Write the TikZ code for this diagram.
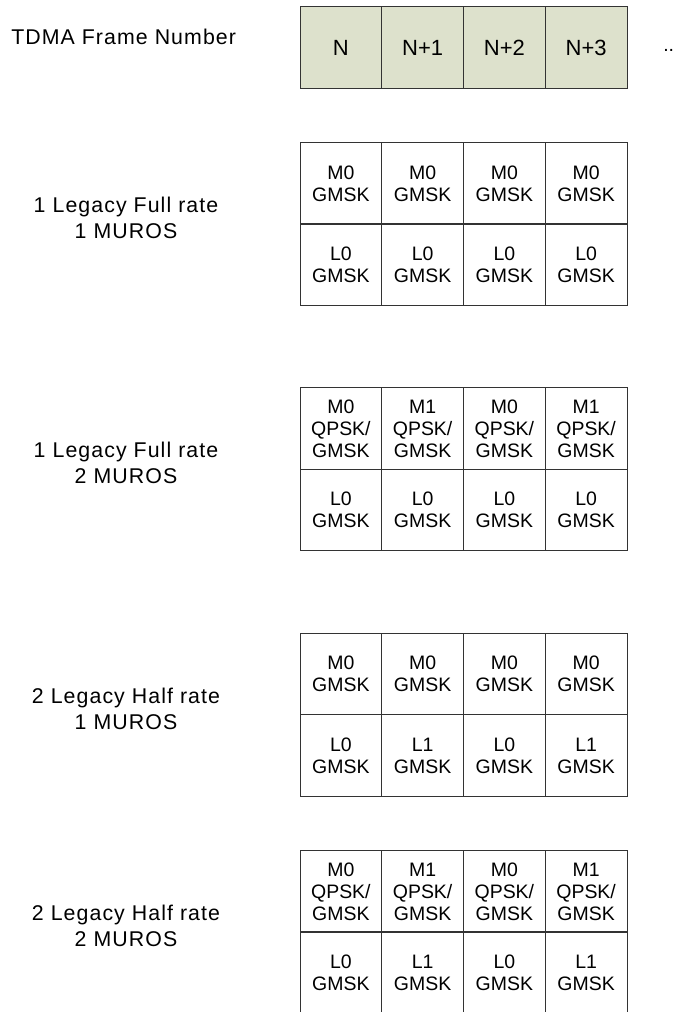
\documentclass[tikz,border=0pt]{standalone}
\usepackage{fontspec}
\setmainfont{Liberation Sans}
\newfontfamily\lblfont{Liberation Sans}[LetterSpace=5]
\usepackage{xcolor}
\usepackage{tikz}
\usetikzlibrary{positioning}
\definecolor{framefill}{HTML}{DDE1CC}

\begin{document}
\begin{tikzpicture}[
  x=0.75pt, y=-0.75pt,
  font=\fontsize{14.6pt}{16.5pt}\selectfont,
  cell/.style={draw=black!80, line width=0.75pt, minimum width=61.3pt, minimum height=61.1pt, align=center, inner sep=0pt},
  fnum/.style={cell, fill=framefill, font=\fontsize{16.5pt}{18pt}\selectfont},
  lbl/.style={align=center, font=\lblfont\fontsize{16pt}{19.5pt}\selectfont},
]
\useasboundingbox (0,0) rectangle (674,1012);
\clip (0,0) rectangle (674,1012);
% ---------------- frame numbers ----------------
\node[lbl, anchor=base west, inner sep=0pt] (title) at (11,45) {TDMA Frame Number};
\foreach \f [count=\i from 0] in {N, N+1, N+2, N+3}
  \node[fnum] (n\i) at ({300+81.75*(\i+0.5)},47.5) {\f};
\node[anchor=base west, inner sep=0pt] (more) at (663,52) {..};
% ---------------- 1 Legacy Full rate, 1 MUROS ----------------
\node[lbl] (g1) at (126,217.5) {1 Legacy Full rate\\1 MUROS};
\foreach \m/\l [count=\i from 0] in {M0/L0, M0/L0, M0/L0, M0/L0} {
  \node[cell] (g1m\i) at ({300+81.75*(\i+0.5)},183.5) {\m\\GMSK};
  \node[cell] (g1l\i) at ({300+81.75*(\i+0.5)},264.5) {\l\\GMSK};
}
% ---------------- 1 Legacy Full rate, 2 MUROS ----------------
\node[lbl] (g2) at (126,462.5) {1 Legacy Full rate\\2 MUROS};
\foreach \m/\l [count=\i from 0] in {M0/L0, M1/L0, M0/L0, M1/L0} {
  \node[cell] (g2m\i) at ({300+81.75*(\i+0.5)},428.5) {\m\\QPSK/\\GMSK};
  \node[cell] (g2l\i) at ({300+81.75*(\i+0.5)},510) {\l\\GMSK};
}
% ---------------- 2 Legacy Half rate, 1 MUROS ----------------
\node[lbl] (g3) at (126,708.5) {2 Legacy Half rate\\1 MUROS};
\foreach \m/\l [count=\i from 0] in {M0/L0, M0/L1, M0/L0, M0/L1} {
  \node[cell] (g3m\i) at ({300+81.75*(\i+0.5)},674) {\m\\GMSK};
  \node[cell] (g3l\i) at ({300+81.75*(\i+0.5)},755.5) {\l\\GMSK};
}
% ---------------- 2 Legacy Half rate, 2 MUROS ----------------
\node[lbl] (g4) at (126,925.5) {2 Legacy Half rate\\2 MUROS};
\foreach \m/\l [count=\i from 0] in {M0/L0, M1/L1, M0/L0, M1/L1} {
  \node[cell] (g4m\i) at ({300+81.75*(\i+0.5)},891.5) {\m\\QPSK/\\GMSK};
  \node[cell] (g4l\i) at ({300+81.75*(\i+0.5)},972.5) {\l\\GMSK};
}
\end{tikzpicture}
\end{document}
